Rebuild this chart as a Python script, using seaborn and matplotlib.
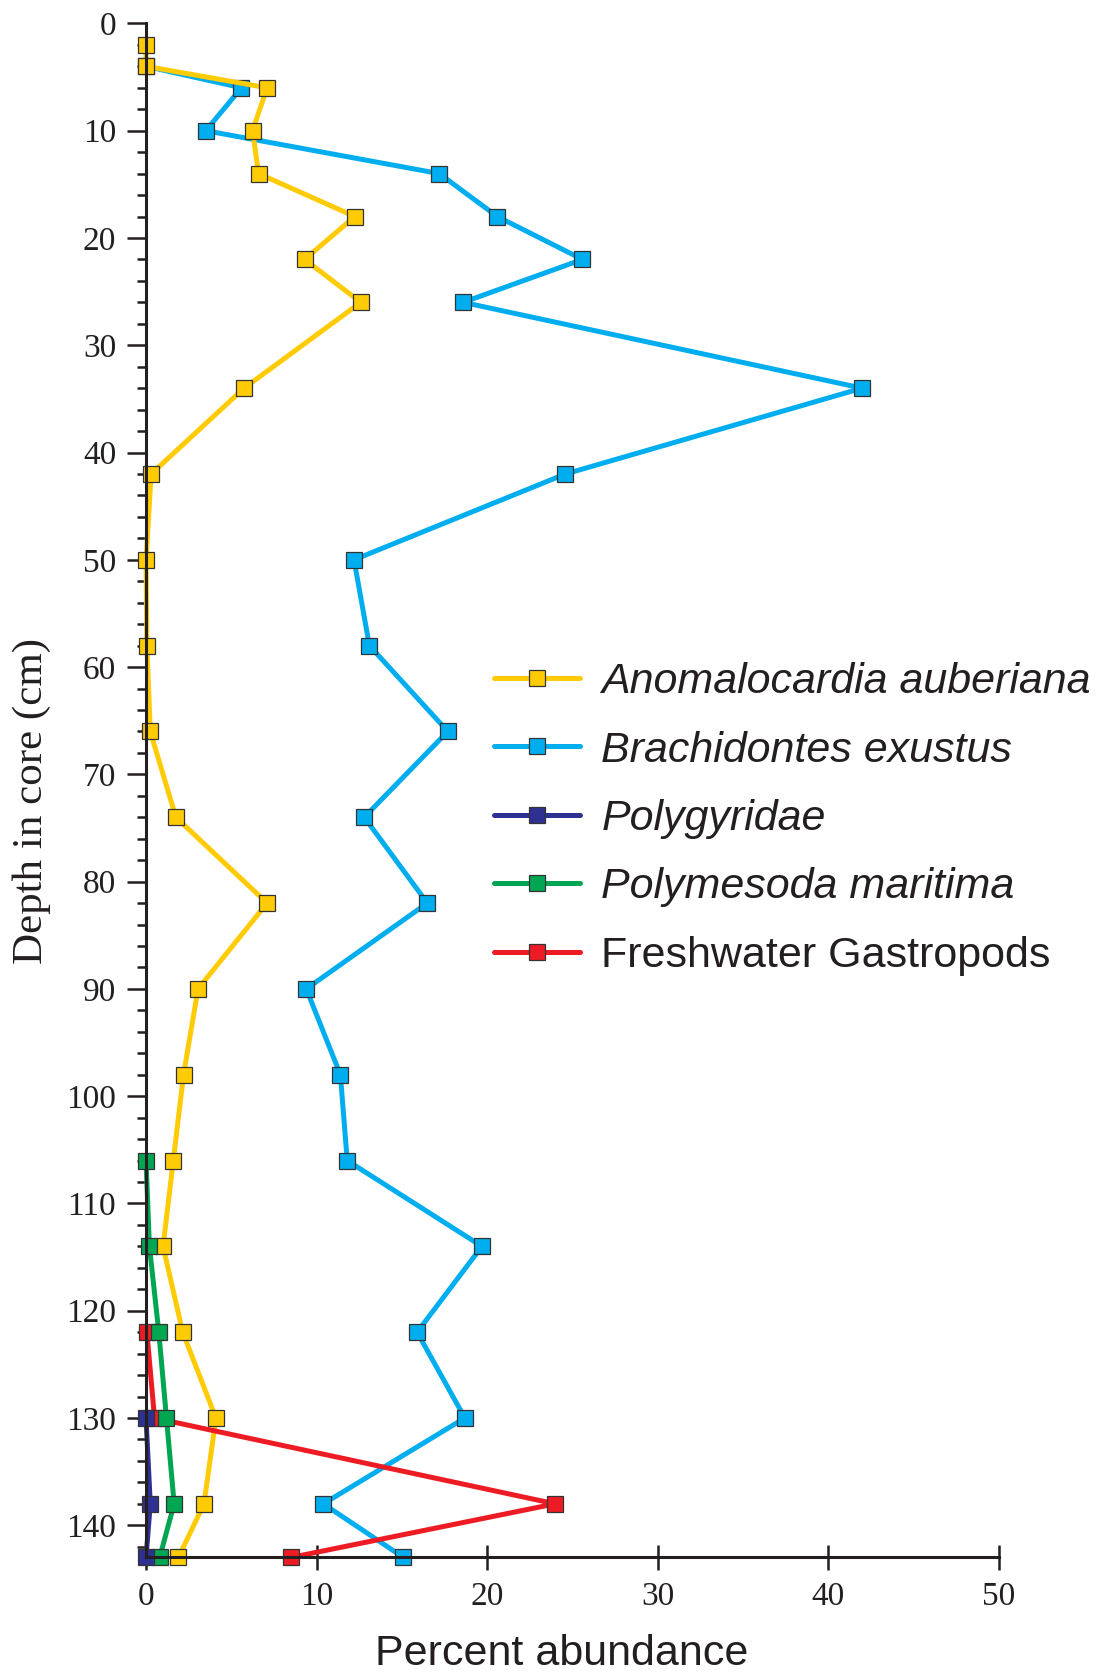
import matplotlib
matplotlib.use("Agg")
import matplotlib.pyplot as plt
import seaborn as sns
from matplotlib.lines import Line2D
from matplotlib.ticker import MultipleLocator

# Core sample depths (cm) and percent abundance of each taxon
depth_anomalocardia = [2, 4, 6, 10, 14, 18, 22, 26, 34, 42, 50, 58, 66, 74, 82, 90, 98, 106, 114, 122, 130, 138, 143]
anomalocardia = [0, 0, 7.1, 6.25, 6.6, 12.25, 9.3, 12.6, 5.75, 0.3, 0, 0.05, 0.25, 1.75, 7.1, 3.05, 2.2, 1.6, 1.0, 2.15, 4.1, 3.4, 1.9]

depth_brachidontes = [4, 6, 10, 14, 18, 22, 26, 34, 42, 50, 58, 66, 74, 82, 90, 98, 106, 114, 122, 130, 138, 143]
brachidontes = [0, 5.6, 3.5, 17.2, 20.6, 25.6, 18.6, 42.0, 24.6, 12.2, 13.1, 17.7, 12.8, 16.5, 9.4, 11.4, 11.8, 19.7, 15.9, 18.7, 10.4, 15.1]

depth_polygyridae = [130, 138, 143]
polygyridae = [0, 0.25, 0]

depth_polymesoda = [106, 114, 122, 130, 138, 143]
polymesoda = [0, 0.2, 0.75, 1.2, 1.65, 0.8]

depth_freshwater = [122, 130, 138, 143]
freshwater = [0.05, 0.5, 24.0, 8.5]

labels = ["Anomalocardia auberiana", "Brachidontes exustus", "Polygyridae",
          "Polymesoda maritima", "Freshwater Gastropods"]
colors = ["#FFCB05", "#00AEEF", "#2E3192", "#00A651", "#ED1C24"]
italic = [True, True, True, True, False]

x_ticks = [0, 10, 20, 30, 40, 50]
y_ticks = list(range(0, 141, 10))

sns.set_theme(style="ticks")
plt.rcParams["font.family"] = ["Liberation Sans", "DejaVu Sans"]
ink = "#231F20"

fig = plt.figure(figsize=(11.02, 16.72), dpi=100)
ax = fig.add_axes([0.1325, 0.0685, 0.7736, 0.9175])

line_kw = dict(lw=3.6, marker="s", markersize=11, markeredgecolor="#333333",
               markeredgewidth=0.9, clip_on=False)

series = {
    "Brachidontes exustus": (brachidontes, depth_brachidontes),
    "Anomalocardia auberiana": (anomalocardia, depth_anomalocardia),
    "Freshwater Gastropods": (freshwater, depth_freshwater),
    "Polymesoda maritima": (polymesoda, depth_polymesoda),
    "Polygyridae": (polygyridae, depth_polygyridae),
}
color_of = dict(zip(labels, colors))
for name, (vals, depths) in series.items():
    sns.lineplot(x=vals, y=depths, ax=ax, sort=False, estimator=None,
                 color=color_of[name], legend=False, **line_kw)

ax.set_xlim(0, 50)
ax.set_ylim(143, 0)
ax.set_xticks(x_ticks)
ax.set_yticks(y_ticks)
ax.yaxis.set_minor_locator(MultipleLocator(2))

for side in ("top", "right"):
    ax.spines[side].set_visible(False)
for side in ("left", "bottom"):
    ax.spines[side].set_linewidth(2.2)
    ax.spines[side].set_color(ink)

ax.tick_params(axis="y", which="major", direction="out", length=13.5, width=1.8,
               color=ink, pad=8, labelsize=24, labelcolor=ink)
ax.tick_params(axis="y", which="minor", direction="out", length=6.5, width=1.8, color=ink)
ax.tick_params(axis="x", which="major", direction="inout", length=18, width=1.8,
               color=ink, pad=8, labelsize=24, labelcolor=ink)
for lbl in ax.get_xticklabels() + ax.get_yticklabels():
    lbl.set_fontfamily("Liberation Serif")

ax.set_ylabel("Depth in core (cm)", fontsize=31, family="Liberation Serif", color=ink)
ax.yaxis.set_label_coords(-0.111, 0.493)
ax.set_xlabel("Percent abundance", fontsize=31, color=ink)
ax.xaxis.set_label_coords(0.488, -0.05)

handles = [Line2D([], [], color=c, **{k: v for k, v in line_kw.items() if k != "clip_on"})
           for c in colors]
leg = ax.legend(handles, labels, loc="upper left", bbox_to_anchor=(0.448, 0.604),
                bbox_transform=fig.transFigure, frameon=False, fontsize=31,
                handlelength=2.0, handletextpad=0.5, labelspacing=0.66,
                borderpad=0, borderaxespad=0)
for txt, it in zip(leg.get_texts(), italic):
    txt.set_color(ink)
    if it:
        txt.set_fontstyle("italic")

fig.savefig("out.png", dpi=100)
